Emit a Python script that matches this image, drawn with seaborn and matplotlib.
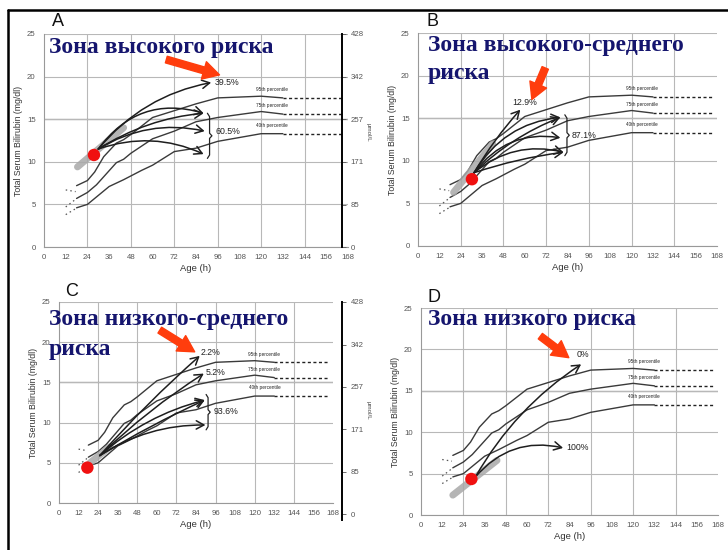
import numpy as np
import pandas as pd
import seaborn as sns
import matplotlib
matplotlib.use("Agg")
import matplotlib.pyplot as plt
from matplotlib.lines import Line2D
from matplotlib.ticker import MultipleLocator

# Bhutani nomogram curves: age (h) vs total serum bilirubin (mg/dl)
P95_AGE = [18, 24, 28, 33, 40, 44, 48, 60, 72, 84, 96, 120, 132]
P95_TSB = [7.2, 7.8, 8.8, 10.6, 12.2, 12.6, 13.2, 15.2, 16.0, 16.8, 17.5, 17.7, 17.5]
P75_AGE = [18, 24, 29, 40, 44, 48, 60, 72, 84, 96, 120, 132]
P75_TSB = [5.7, 6.4, 7.3, 9.9, 10.3, 11.0, 12.7, 13.6, 14.7, 15.2, 15.9, 15.6]
P40_AGE = [18, 24, 36, 44, 54, 60, 72, 84, 96, 120, 132]
P40_TSB = [4.6, 5.0, 7.1, 7.9, 9.0, 9.6, 11.2, 11.6, 12.4, 13.3, 13.3]
# short dotted lead-ins before 18 h
LEAD_AGE = [12, 17.5]
LEAD95_TSB = [6.7, 6.5]
LEAD75_TSB = [4.7, 5.6]
LEAD40_TSB = [3.8, 4.5]
TAIL_END = 165
PCT_LABELS = ["95th percentile", "75th percentile", "40th percentile"]

X_TICKS = list(range(0, 169, 12))
Y_TICKS = [0, 5, 10, 15, 20, 25]
UMOL_TICKS = [0, 85, 171, 257, 342, 428]

# panel A - high risk zone
A_TITLE = ["Зона высокого риска"]
A_DOT = (27.6, 10.8)
A_BLOB_AGE = [18.5, 44]
A_BLOB_TSB = [9.4, 14.0]
A_START = (30, 11.5)
A_END_AGE = [92.4, 88.2, 88.2, 88.8, 88.2]
A_END_TSB = [19.3, 15.7, 15.7, 13.6, 10.9]
A_TEXT = [("39.5%", 94.5, 19.3), ("60.5%", 95, 13.5)]
A_BRACE = (91.5, 10.5, 15.6)
A_RED = ((67.6, 22.0), (97, 20.2))

# panel B - high-intermediate risk zone
B_TITLE = ["Зона высокого-среднего", "риска"]
B_DOT = (30.3, 7.84)
B_BLOB_AGE = [20, 42]
B_BLOB_TSB = [6.3, 12.0]
B_START = (31.5, 8.6)
B_END_AGE = [57.5, 80, 80, 80, 81.8, 81.8]
B_END_TSB = [16.0, 15.1, 15.1, 12.7, 11.0, 11.0]
B_TEXT = [("12.9%", 53, 16.8), ("87.1%", 86.5, 13.0)]
B_BRACE = (83.7, 10.7, 15.3)
B_RED = ((71.5, 20.9), (64, 17.2))

# panel C - low-intermediate risk zone
C_TITLE = ["Зона низкого-среднего", "риска"]
C_DOT = (17.4, 4.4)
C_BLOB_AGE = [19, 31.3]
C_BLOB_TSB = [5.0, 7.0]
C_START = (25, 5.9)
C_END_AGE = [86.3, 88.8, 89.4, 89.4, 89.8]
C_END_TSB = [18.3, 16.1, 12.8, 12.8, 9.7]
C_TEXT = [("2.2%", 86.8, 18.7), ("5.2%", 90, 16.2), ("93.6%", 94.5, 11.4)]
C_BRACE = (91.4, 9.2, 13.4)
C_RED = ((61.8, 21.5), (83.2, 18.8))

# panel D - low risk zone
D_TITLE = ["Зона низкого риска"]
D_DOT = (28.5, 4.35)
D_BLOB_AGE = [18, 43]
D_BLOB_TSB = [2.4, 6.6]
D_START = (30.8, 4.6)
D_END_AGE = [90.6, 80.4]
D_END_TSB = [18.2, 8.1]
D_TEXT = [("0%", 88.3, 19.4), ("100%", 82, 8.1)]
D_BRACE = None
D_RED = ((67.5, 21.6), (83.6, 19.0))

sns.set_style("white")
plt.rcParams['font.family'] = ['Liberation Sans', 'DejaVu Sans']

W, H = 728, 550
LINE = '#3a3a3a'
GRID = '#b8b8b8'
TICKC = '#555555'
NAVY = '#15156e'
RED = '#ff3d0d'


def px_axes(fig, left, right, top, bottom):
    return fig.add_axes([left / W, 1 - bottom / H, (right - left) / W, (bottom - top) / H])


def draw_nomogram(ax):
    curves = pd.DataFrame({
        'age': P95_AGE + P75_AGE + P40_AGE,
        'tsb': P95_TSB + P75_TSB + P40_TSB,
        'curve': ['95'] * len(P95_AGE) + ['75'] * len(P75_AGE) + ['40'] * len(P40_AGE),
    })
    sns.lineplot(data=curves, x='age', y='tsb', units='curve', estimator=None,
                 color=LINE, lw=1.0, ax=ax, legend=False)
    lasts = [P95_TSB[-1], P75_TSB[-1], P40_TSB[-1]]
    tails = pd.DataFrame({
        'age': [132, TAIL_END] * 3,
        'tsb': [v for v in lasts for _ in range(2)],
        'curve': ['95', '95', '75', '75', '40', '40'],
    })
    sns.lineplot(data=tails, x='age', y='tsb', units='curve', estimator=None,
                 color='#222222', lw=1.0, linestyle=(0, (2.2, 1.8)), ax=ax, legend=False)
    leads = pd.DataFrame({
        'age': LEAD_AGE * 3,
        'tsb': LEAD95_TSB + LEAD75_TSB + LEAD40_TSB,
        'curve': ['95', '95', '75', '75', '40', '40'],
    })
    sns.lineplot(data=leads, x='age', y='tsb', units='curve', estimator=None,
                 color='#555555', lw=0.9, linestyle=(0, (1.2, 2.5)), ax=ax, legend=False)
    for lab, v in zip(PCT_LABELS, lasts):
        ax.text(126, v + 0.7, lab, fontsize=3.4, ha='center', va='bottom', color='#222')


def style_axes(ax, xlabel_pad=2):
    ax.set_xlim(0, 168)
    ax.set_ylim(0, 25)
    ax.set_xticks(X_TICKS)
    ax.set_yticks(Y_TICKS)
    ax.yaxis.set_minor_locator(MultipleLocator(1))
    ax.tick_params(axis='both', which='major', labelsize=5.6, colors=TICKC,
                   length=4, width=0.6, pad=2)
    ax.tick_params(axis='y', which='minor', length=2, width=0.5, color='#999')
    ax.tick_params(axis='x', direction='inout', length=6)
    ax.yaxis.grid(True, color=GRID, lw=0.8)
    for gx in range(24, 168, 24):
        ax.axvline(gx, color=GRID, lw=0.8, zorder=0)
    ax.axhline(15, color='#7a7a7a', lw=0.9, zorder=0)
    for s in ['top', 'right']:
        ax.spines[s].set_visible(False)
    for s in ['left', 'bottom']:
        ax.spines[s].set_color('#999')
        ax.spines[s].set_linewidth(0.8)
    ax.set_xlabel("Age (h)", fontsize=6.8, color='#333', labelpad=xlabel_pad)
    ax.set_ylabel("Total Serum Bilirubin (mg/dl)", fontsize=6.3, color='#333', labelpad=3)


def draw_case(ax, dot, blob_age, blob_tsb, start, end_age, end_tsb, rads, texts, brace, red):
    ax.plot(blob_age, blob_tsb, color='#a8a8a8', lw=5, alpha=0.85,
            solid_capstyle='round', zorder=2)
    for ex, ey, r in zip(end_age, end_tsb, rads):
        ax.annotate('', xy=(ex, ey), xytext=start,
                    arrowprops=dict(arrowstyle='->,head_length=0.55,head_width=0.3',
                                    connectionstyle=f'arc3,rad={r}', color='#1e1e1e',
                                    lw=1.1, shrinkA=0, shrinkB=0), zorder=4)
    for label, tx, ty in texts:
        ax.text(tx, ty, label, fontsize=6.3, color='#222', ha='left', va='center')
    if brace is not None:
        bx, lo, hi = brace
        mid = (lo + hi) / 2
        ax.plot([bx - 1.2, bx, bx, bx + 1.3, bx, bx, bx - 1.2],
                [hi + 0.1, hi - 0.3, mid + 0.3, mid, mid - 0.3, lo + 0.3, lo - 0.1],
                color='#222', lw=0.9)
    ax.scatter([dot[0]], [dot[1]], s=80, color='#f01010', zorder=6, edgecolors='none')
    ax.annotate('', xy=red[1], xytext=red[0], annotation_clip=False,
                arrowprops=dict(arrowstyle='simple,head_width=1.0,head_length=0.9,tail_width=0.38',
                                mutation_scale=13, color=RED, shrinkA=0, shrinkB=0), zorder=7)


def right_scale(fig, x, top, bottom, ymin):
    rax = fig.add_axes([x / W, 1 - bottom / H, 0.0001, (bottom - top) / H])
    rax.set_ylim(ymin, 428)
    rax.set_xticks([])
    rax.set_yticks(UMOL_TICKS)
    rax.yaxis.tick_right()
    rax.tick_params(axis='y', labelsize=5.6, colors=TICKC, length=3, width=0.6, pad=3)
    for s in ['top', 'left', 'bottom']:
        rax.spines[s].set_visible(False)
    rax.spines['right'].set_color('black')
    rax.spines['right'].set_linewidth(1.4)
    rax.patch.set_alpha(0)
    return rax


fig = plt.figure(figsize=(W / 100, H / 100), dpi=100)

axA = px_axes(fig, 44, 348, 34, 247)
axB = px_axes(fig, 418, 717, 33, 246)
axC = px_axes(fig, 59, 333, 302, 503)
axD = px_axes(fig, 421, 718, 308, 515)

for ax in [axA, axB, axC, axD]:
    draw_nomogram(ax)
    style_axes(ax)

draw_case(axA, A_DOT, A_BLOB_AGE, A_BLOB_TSB, A_START, A_END_AGE, A_END_TSB,
          [-0.18, -0.35, -0.12, -0.2, -0.2], A_TEXT, A_BRACE, A_RED)
draw_case(axB, B_DOT, B_BLOB_AGE, B_BLOB_TSB, B_START, B_END_AGE, B_END_TSB,
          [-0.05, -0.25, -0.1, -0.3, -0.25, -0.05], B_TEXT, B_BRACE, B_RED)
draw_case(axC, C_DOT, C_BLOB_AGE, C_BLOB_TSB, C_START, C_END_AGE, C_END_TSB,
          [-0.03, -0.05, -0.12, -0.03, -0.15], C_TEXT, C_BRACE, C_RED)
draw_case(axD, D_DOT, D_BLOB_AGE, D_BLOB_TSB, D_START, D_END_AGE, D_END_TSB,
          [-0.12, -0.3], D_TEXT, D_BRACE, D_RED)

right_scale(fig, 342, 34, 247, 0)
right_scale(fig, 342, 302, 520, -12)
fig.text(368 / W, 1 - 132 / H, "µmol/L", rotation=-90, fontsize=4.5, color='#444',
         ha='center', va='center')
fig.text(368 / W, 1 - 410 / H, "µmol/L", rotation=-90, fontsize=4.5, color='#444',
         ha='center', va='center')

# panel letters
for letter, lx, ly in [("A", 58, 22), ("B", 432, 22), ("C", 72, 292), ("D", 434, 298)]:
    fig.text(lx / W, 1 - ly / H, letter, fontsize=13, ha='center', va='center', color='#111')

# overlaid zone titles
for lines, tx, ty in [(A_TITLE, 49, 47), (B_TITLE, 428, 45),
                      (C_TITLE, 49, 320), (D_TITLE, 428, 320)]:
    for i, line in enumerate(lines):
        fig.text(tx / W, 1 - (ty + 29 * i) / H, line, fontsize=17, fontweight='bold',
                 family=['Liberation Serif', 'DejaVu Serif'], color=NAVY,
                 ha='left', va='center', zorder=10)

# scan frame
fig.add_artist(Line2D([8 / W, 1], [1 - 10 / H, 1 - 10 / H], color='black', lw=1.8))
fig.add_artist(Line2D([8 / W, 8 / W], [0, 1 - 10 / H], color='black', lw=1.8))

fig.savefig("out.png", dpi=100)
